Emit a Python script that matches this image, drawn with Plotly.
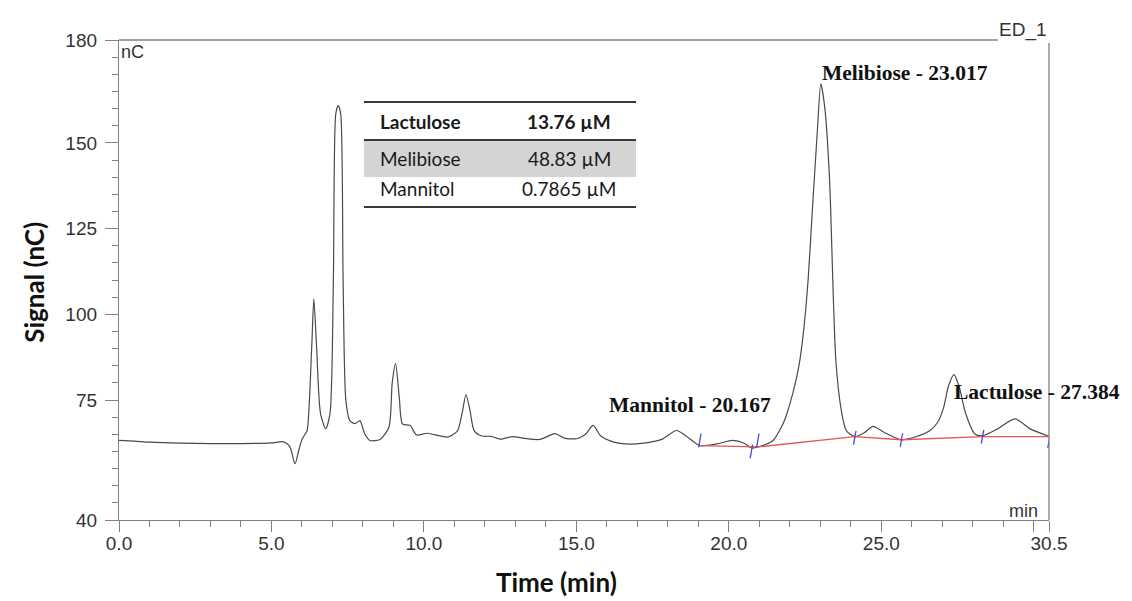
import plotly.graph_objects as go

# Chromatogram trace (retention time in min, detector signal in nC)
time_min = [0.0, 0.5, 1.0, 2.0, 3.0, 4.0, 5.0, 5.4, 5.6, 5.77, 5.9, 6.0, 6.1, 6.17,
            6.32, 6.39, 6.48, 6.61, 6.78, 6.92, 7.03, 7.11, 7.19, 7.27, 7.35, 7.44,
            7.57, 7.74, 7.9, 8.06, 8.23, 8.56, 8.85, 8.96, 9.07, 9.19, 9.3, 9.54, 9.76,
            10.1, 10.5, 10.8, 11.1, 11.25, 11.38, 11.51, 11.65, 11.9, 12.2, 12.5, 12.9,
            13.3, 13.8, 14.3, 14.6, 15.0, 15.3, 15.55, 15.8, 16.2, 16.6, 17.2, 17.8,
            18.28, 18.6, 19.05, 19.6, 20.13, 20.5, 20.74, 20.95, 21.2, 21.45, 21.8,
            22.1, 22.3, 22.45, 22.6, 22.75, 22.9, 23.017, 23.15, 23.3, 23.51, 23.69, 23.85,
            24.13, 24.45, 24.73, 25.1, 25.66, 26.1, 26.6, 26.85, 27.05, 27.2, 27.384,
            27.55, 27.77, 28.07, 28.32, 28.8, 29.38, 29.9, 30.5]
signal_nc = [63.2, 63.0, 62.7, 62.4, 62.3, 62.3, 62.5, 62.8, 61.5, 56.4, 60.5, 63.5, 65.0, 66.1,
             90.4, 104.5, 90.4, 71.0, 66.6, 71.0, 109.8, 158.5, 160.9, 158.5, 109.8, 74.9,
             69.0, 68.1, 69.0, 65.1, 63.2, 63.5, 67.0, 80.0, 85.7, 76.0, 68.0, 67.6, 64.8,
             65.3, 64.6, 64.2, 66.0, 71.0, 76.6, 72.0, 66.0, 64.5, 64.4, 63.6, 64.3,
             63.8, 63.5, 65.2, 63.9, 63.7, 65.0, 67.6, 64.5, 62.8, 62.2, 62.4, 63.5,
             66.1, 64.5, 61.7, 62.2, 63.2, 62.4, 61.0, 61.3, 62.0, 63.2, 68.5,
             77.0, 85.0, 95.0, 110.0, 132.0, 153.0, 167.2, 160.0, 140.0, 86.5, 71.9, 66.1,
             64.3, 65.5, 67.3, 65.5, 63.4, 64.2, 66.1, 68.5, 73.0, 79.0, 82.4,
             79.0, 71.0, 65.1, 64.6, 66.5, 69.5, 66.5, 64.4]

# Integration baseline and its delimiters
baseline_t = [19.05, 20.95, 24.13, 25.66, 28.32, 30.5]
baseline_v = [61.7, 61.3, 64.3, 63.4, 64.3, 64.3]
delim_t = [19.05, 20.74, 20.95, 24.13, 25.66, 28.32, 30.5]
delim_v = [63.2, 60.0, 63.2, 64.0, 63.3, 64.3, 63.0]

# Peak labels
peak_names = ["Mannitol", "Melibiose", "Lactulose"]
peak_rt = ["20.167", "23.017", "27.384"]
peak_label_t = [18.74, 25.77, 30.1]
peak_label_v = [73.5, 170.4, 77.3]

# Concentration table
table_names = ["Lactulose", "Melibiose", "Mannitol"]
table_conc = ["13.76 µM", "48.83 µM", "0.7865 µM"]

y_ticks = [40, 75, 100, 125, 150, 180]
x_ticks = [0, 5, 10, 15, 20, 25, 30, 30.5]
x_ticktext = ["0.0", "5.0", "10.0", "15.0", "20.0", "25.0", "", "30.5"]

AXIS_GREY = "#808080"
TEXT_GREY = "#333333"
SANS = "Liberation Sans, Arial, sans-serif"
TABLE_FONT = "Lato, Open Sans, sans-serif"

fig = go.Figure()

fig.add_trace(go.Scatter(
    x=time_min, y=signal_nc, mode="lines",
    line=dict(color="#4a4a4a", width=1.2, shape="spline", smoothing=0.7),
    hoverinfo="skip", showlegend=False,
))

fig.add_trace(go.Scatter(
    x=baseline_t, y=baseline_v, mode="lines",
    line=dict(color="#e8555a", width=1.3),
    hoverinfo="skip", showlegend=False,
))

# short slanted delimiter ticks
half_h, tilt = 2.0, 0.04
dx, dy = [], []
for t, v in zip(delim_t, delim_v):
    dx += [t - tilt, t + tilt, None]
    dy += [v - half_h, v + half_h, None]
fig.add_trace(go.Scatter(
    x=dx, y=dy, mode="lines",
    line=dict(color="#4b4bd6", width=1.3),
    hoverinfo="skip", showlegend=False, cliponaxis=False,
))

for name, rt, lt, lv in zip(peak_names, peak_rt, peak_label_t, peak_label_v):
    fig.add_annotation(
        x=lt, y=lv, xref="x", yref="y", text=f"<b>{name} - {rt}</b>",
        showarrow=False, xanchor="center", yanchor="middle",
        font=dict(family="Liberation Serif, Times New Roman, serif", size=21.5, color="#111111"),
    )

# table (paper coordinates)
tx0, tx1 = 0.2634, 0.5559
row_lines = [0.8708, 0.7917, 0.6521]
row_centers = [0.8292, 0.7521, 0.6896]
fig.add_shape(type="rect", xref="paper", yref="paper", x0=tx0, x1=tx1,
              y0=0.7146, y1=0.7917, fillcolor="#d4d4d4", line=dict(width=0), layer="below")
for yl in row_lines:
    fig.add_shape(type="line", xref="paper", yref="paper", x0=tx0, x1=tx1,
                  y0=yl, y1=yl, line=dict(color="#3a3a3a", width=2))
for i, (nm, cc) in enumerate(zip(table_names, table_conc)):
    bold = i == 0
    fig.add_annotation(x=0.2785, y=row_centers[i], xref="paper", yref="paper",
                       text=f"<b>{nm}</b>" if bold else nm, showarrow=False,
                       xanchor="left", yanchor="middle",
                       font=dict(family=TABLE_FONT, size=19, color="#1a1a1a"))
    fig.add_annotation(x=0.4839, y=row_centers[i], xref="paper", yref="paper",
                       text=f"<b>{cc}</b>" if bold else cc, showarrow=False,
                       xanchor="center", yanchor="middle",
                       font=dict(family=TABLE_FONT, size=19, color="#1a1a1a"))

# frame pieces
fig.add_shape(type="line", xref="paper", yref="paper", x0=0, x1=0.945, y0=1, y1=1,
              line=dict(color=AXIS_GREY, width=1.3))
fig.add_shape(type="line", xref="paper", yref="paper", x0=1, x1=1, y0=0, y1=0.994,
              line=dict(color=AXIS_GREY, width=1.3))

fig.add_annotation(x=1.0, y=1.0, xref="paper", yref="paper", text="ED_1",
                   showarrow=False, xanchor="right", yanchor="bottom", yshift=-3,
                   font=dict(family=SANS, size=19, color=TEXT_GREY))
fig.add_annotation(x=0.0, y=0.975, xref="paper", yref="paper", text="nC",
                   showarrow=False, xanchor="left", yanchor="middle",
                   font=dict(family=SANS, size=18, color=TEXT_GREY))
fig.add_annotation(x=0.99, y=0.018, xref="paper", yref="paper", text="min",
                   showarrow=False, xanchor="right", yanchor="middle",
                   font=dict(family=SANS, size=18, color=TEXT_GREY))

# axis titles
fig.add_annotation(x=-0.091, y=0.495, xref="paper", yref="paper", text="<b>Signal (nC)</b>",
                   showarrow=False, textangle=-90, xanchor="center", yanchor="middle",
                   font=dict(family=TABLE_FONT, size=26, color="#111111"))
fig.add_annotation(x=0.470, y=-0.13, xref="paper", yref="paper", text="<b>Time (min)</b>",
                   showarrow=False, xanchor="center", yanchor="middle",
                   font=dict(family=TABLE_FONT, size=26, color="#111111"))

fig.update_xaxes(
    range=[0, 30.5], tickmode="array", tickvals=x_ticks, ticktext=x_ticktext,
    ticks="outside", ticklen=11, tickwidth=1.2, tickcolor=AXIS_GREY,
    showline=True, linecolor=AXIS_GREY, linewidth=1.3, showgrid=False, zeroline=False,
    tickfont=dict(family=SANS, size=19, color=TEXT_GREY), ticklabelstandoff=-5,
    minor=dict(tickmode="linear", tick0=0, dtick=1, ticks="outside", ticklen=6,
               tickcolor=AXIS_GREY, tickwidth=1.1, showgrid=False),
)
fig.update_yaxes(
    range=[40, 180], tickmode="array", tickvals=y_ticks,
    ticks="outside", ticklen=13, tickwidth=1.2, tickcolor=AXIS_GREY,
    showline=True, linecolor=AXIS_GREY, linewidth=1.3, showgrid=False, zeroline=False,
    tickfont=dict(family=SANS, size=19, color=TEXT_GREY), ticklabelstandoff=4,
    minor=dict(tickmode="linear", tick0=0, dtick=5, ticks="outside", ticklen=6,
               tickcolor=AXIS_GREY, tickwidth=1.1, showgrid=False),
)

fig.update_layout(
    width=1132, height=601,
    margin=dict(l=119, r=83, t=40, b=81),
    plot_bgcolor="white", paper_bgcolor="white",
)

fig.write_html("out.html")
